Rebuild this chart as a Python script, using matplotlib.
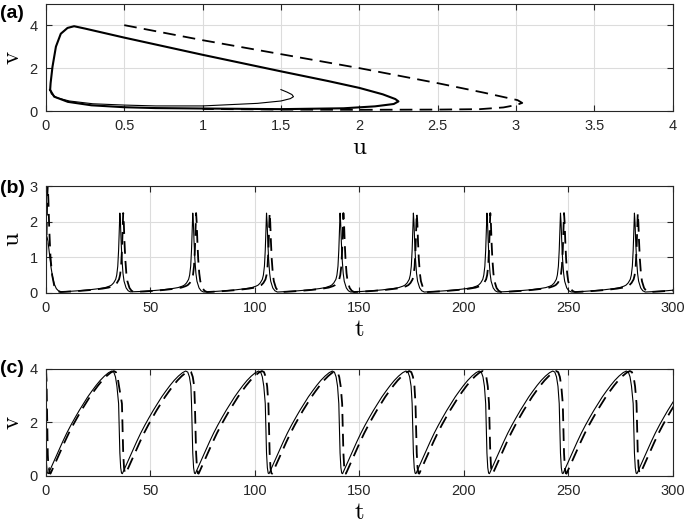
import numpy as np
import matplotlib
matplotlib.use('Agg')
import matplotlib.pyplot as plt

plt.rcParams['font.family'] = ['Liberation Sans', 'DejaVu Sans']
plt.rcParams['mathtext.fontset'] = 'cm'

# ---- panel (a): phase plane ----
# solid: start transient then limit cycle
sol_tr_u = [1.5, 1.54, 1.57, 1.58, 1.56, 1.5, 1.35, 1.0, 0.7, 0.5, 0.3, 0.15, 0.07, 0.035, 0.027]
sol_tr_v = [1.0, 0.88, 0.77, 0.67, 0.58, 0.47, 0.36, 0.24, 0.24, 0.28, 0.34, 0.47, 0.62, 0.8, 0.98]
cyc_u = [0.027, 0.03, 0.042, 0.064, 0.095, 0.138, 0.18, 0.25, 0.5, 1.0, 1.5, 1.8, 2.0, 2.15, 2.23, 2.25,
         2.22, 2.1, 1.9, 1.5, 1.0, 0.7, 0.5, 0.29, 0.14, 0.053, 0.027]
cyc_v = [0.98, 1.3, 2.06, 3.0, 3.6, 3.87, 3.95, 3.84, 3.42, 2.62, 1.85, 1.4, 1.08, 0.78, 0.56, 0.45,
         0.33, 0.22, 0.13, 0.09, 0.12, 0.14, 0.18, 0.27, 0.43, 0.67, 0.98]
dash_u = [0.5, 1.0, 1.5, 2.0, 2.5, 2.8, 3.01, 3.04, 3.0, 2.92, 2.77, 2.5, 2.0, 1.5, 1.0]
dash_v = [4.0, 3.3, 2.65, 2.0, 1.3, 0.85, 0.51, 0.38, 0.28, 0.17, 0.09, 0.07, 0.06, 0.07, 0.1]

spikes_solid = [35.4, 70.3, 105.6, 140.8, 175.9, 211.1, 246.3, 281.7, 316.9]
spikes_dash = [37.0, 71.9, 107.1, 142.4, 177.5, 212.7, 248.0, 283.3, 318.5]

# one u spike, time relative to the peak
u_shape_dt = [-30, -25, -20, -15, -10, -7, -5, -4, -3, -2, -1.5, -1, -0.6, -0.3, 0,
              0.3, 0.6, 1.0, 1.5, 2, 3, 4, 5]
u_shape_val = [0.025, 0.04, 0.06, 0.085, 0.12, 0.15, 0.19, 0.22, 0.28, 0.38, 0.5, 0.75, 1.2, 1.75, 2.24,
               1.95, 1.45, 0.95, 0.55, 0.33, 0.14, 0.06, 0.03]

# one v sawtooth, time relative to the u spike
v_shape_dt = [-0.6, -0.3, 0, 0.4, 0.8, 1.2, 2, 4, 6, 8, 10, 12, 14, 16, 18, 20, 22, 24, 26, 28,
              30, 31.5, 32.5, 33.3, 34.0]
v_shape_val = [2.7, 1.7, 0.85, 0.3, 0.1, 0.08, 0.22, 0.58, 0.93, 1.27, 1.6, 1.9, 2.18, 2.45, 2.7, 2.95,
               3.17, 3.38, 3.57, 3.73, 3.86, 3.92, 3.88, 3.7, 3.35]

# start of each series before the first cycle
u_sol_pre_t = [0, 0.5, 1.0, 1.8, 2.5, 3.2, 4, 5, 6, 7.5]
u_sol_pre = [1.5, 1.58, 1.45, 1.05, 0.7, 0.45, 0.25, 0.12, 0.06, 0.03]
u_dash_pre_t = [0, 0.3, 0.6, 0.9, 1.2, 1.6, 2.2, 3, 4, 5, 6.5]
u_dash_pre = [0.5, 1.5, 2.6, 3.03, 2.6, 1.8, 1.0, 0.5, 0.2, 0.08, 0.03]
v_sol_pre_t = [0, 0.3, 0.6]
v_sol_pre = [1.0, 0.45, 0.15]
v_dash_pre_t = [0, 0.3, 0.6, 0.9, 1.2]
v_dash_pre = [4.0, 3.6, 2.2, 0.8, 0.3]


def tile(pre_t, pre_y, spikes, dts, vals):
    t = list(pre_t)
    y = list(pre_y)
    for s in spikes:
        for d, val in zip(dts, vals):
            if s + d > t[-1]:
                t.append(s + d)
                y.append(val)
    return np.array(t), np.array(y)


ub_t, ub_sol = tile(u_sol_pre_t, u_sol_pre, spikes_solid, u_shape_dt, u_shape_val)
ub_td, ub_dash = tile(u_dash_pre_t, u_dash_pre, spikes_dash, u_shape_dt, u_shape_val)
vc_t, vc_sol = tile(v_sol_pre_t, v_sol_pre, [0.0] + spikes_solid, v_shape_dt, v_shape_val)
vc_td, vc_dash = tile(v_dash_pre_t, v_dash_pre, [1.0] + spikes_dash, v_shape_dt, v_shape_val)

fig = plt.figure(figsize=(6.85, 5.24), dpi=100)
axa = fig.add_axes([0.067, 0.788, 0.915, 0.205])
axb = fig.add_axes([0.067, 0.441, 0.915, 0.204])
axc = fig.add_axes([0.067, 0.092, 0.915, 0.204])

dash = (0, (7, 4))
axa.plot(sol_tr_u, sol_tr_v, color='k', lw=0.8)
axa.plot(cyc_u, cyc_v, color='k', lw=1.5)
axa.plot(dash_u, dash_v, color='k', lw=1.3, linestyle=dash)
axa.set_xlim(0, 4)
axa.set_ylim(0, 5)
axa.set_xticks(np.arange(0, 4.01, 0.5))
axa.set_xticklabels(['0', '0.5', '1', '1.5', '2', '2.5', '3', '3.5', '4'])
axa.set_yticks([0, 2, 4])
axa.set_xlabel(r'$\mathrm{u}$', fontsize=18, labelpad=1)
axa.set_ylabel(r'$\mathrm{v}$', fontsize=18, labelpad=4)

axb.plot(ub_t, ub_sol, color='k', lw=0.8)
axb.plot(ub_td, ub_dash, color='k', lw=1.3, linestyle=dash)
axb.set_xlim(0, 300)
axb.set_ylim(0, 3)
axb.set_yticks([0, 1, 2, 3])
axb.set_xticks(np.arange(0, 301, 50))
axb.set_xlabel(r'$\mathrm{t}$', fontsize=18, labelpad=1)
axb.set_ylabel(r'$\mathrm{u}$', fontsize=18, labelpad=4)

axc.plot(vc_t, vc_sol, color='k', lw=0.8)
axc.plot(vc_td, vc_dash, color='k', lw=1.3, linestyle=dash)
axc.set_xlim(0, 300)
axc.set_ylim(0, 4)
axc.set_yticks([0, 2, 4])
axc.set_xticks(np.arange(0, 301, 50))
axc.set_xlabel(r'$\mathrm{t}$', fontsize=18, labelpad=1)
axc.set_ylabel(r'$\mathrm{v}$', fontsize=18, labelpad=4)

for ax in (axa, axb, axc):
    ax.grid(True, color='#dcdcdc', lw=0.8)
    ax.set_axisbelow(True)
    ax.tick_params(direction='in', top=True, right=True, length=4, width=0.8,
                   labelsize=10.5, colors='#262626', pad=6)
    for sp in ax.spines.values():
        sp.set_color('#262626')
        sp.set_linewidth(0.8)

fig.text(0.0, 0.975, '(a)', fontsize=14, fontweight='bold', va='center')
fig.text(0.0, 0.641, '(b)', fontsize=14, fontweight='bold', va='center')
fig.text(0.0, 0.297, '(c)', fontsize=14, fontweight='bold', va='center')

fig.savefig('out.png', dpi=100)
